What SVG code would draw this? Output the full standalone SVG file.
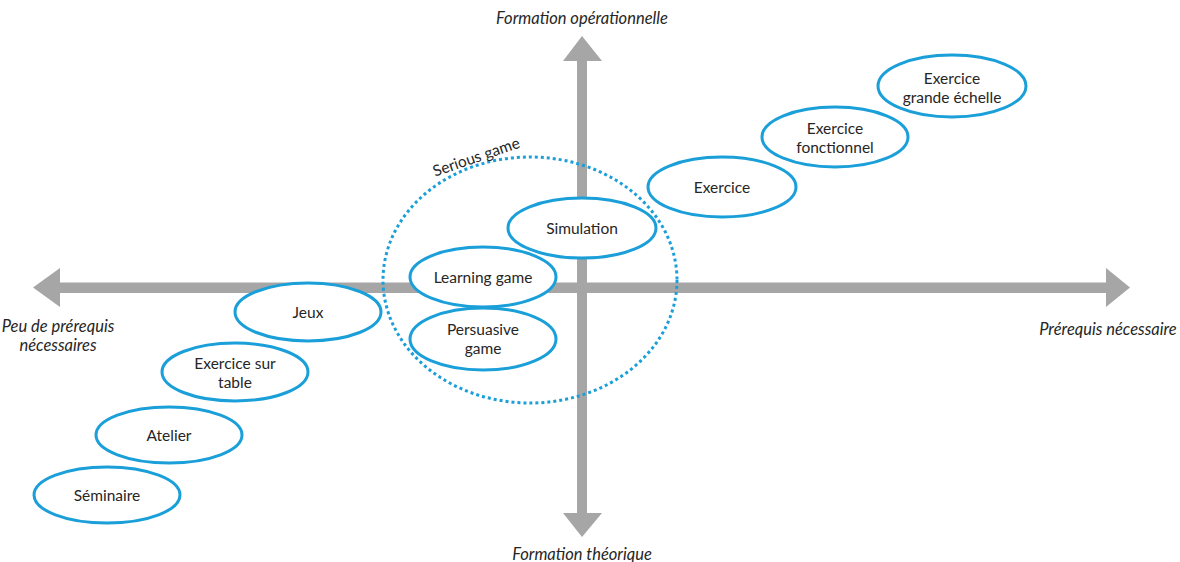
<svg xmlns="http://www.w3.org/2000/svg" width="1180" height="562" viewBox="0 0 1180 562">
<style>
.ax{fill:#A6A6A6}
.n ellipse{fill:#fff;stroke:#1A9FD9;stroke-width:3}
.n text,.t{font-family:Lato,"Open Sans",sans-serif;font-size:15.5px;fill:#262626;text-anchor:middle}
.lab{font-family:Lato,"Open Sans",sans-serif;font-size:16.5px;font-style:italic;fill:#262626;text-anchor:middle}
</style>
<rect width="1180" height="562" fill="#fff"/>
<g id="axes">
<polygon class="ax" points="33,287.5 60,268 60,282.5 1106,282.5 1106,268 1130,287.5 1106,307 1106,293 60,293 60,307"/>
<polygon class="ax" points="582,36 602,61 587,61 587,513 602,513 582,537 563,513 577,513 577,61 563,61"/>
</g>
<g id="axis-labels">
<text class="lab" x="582" y="24">Formation opérationnelle</text>
<text class="lab" x="582" y="560">Formation théorique</text>
<text class="lab" x="58" y="332">Peu de prérequis</text>
<text class="lab" x="58" y="351">nécessaires</text>
<text class="lab" x="1108" y="335">Prérequis nécessaire</text>
</g>
<g id="seminaire" class="n"><ellipse cx="107" cy="495" rx="73" ry="28"/><text x="107" y="501">Séminaire</text></g>
<g id="atelier" class="n"><ellipse cx="169" cy="435" rx="73" ry="28"/><text x="169" y="441">Atelier</text></g>
<g id="exercice-table" class="n"><ellipse cx="235" cy="372" rx="73" ry="29"/><text x="235" y="369">Exercice sur</text><text x="235" y="388">table</text></g>
<g id="jeux" class="n"><ellipse cx="308" cy="312" rx="73" ry="29"/><text x="308" y="318">Jeux</text></g>
<g id="learning-game" class="n"><ellipse cx="483" cy="277" rx="73" ry="30"/><text x="483" y="283">Learning game</text></g>
<g id="persuasive-game" class="n"><ellipse cx="483" cy="339" rx="73" ry="31"/><text x="483" y="335">Persuasive</text><text x="483" y="354">game</text></g>
<g id="simulation" class="n"><ellipse cx="582" cy="228" rx="74" ry="30"/><text x="582" y="234">Simulation</text></g>
<g id="exercice" class="n"><ellipse cx="722" cy="187" rx="74" ry="30"/><text x="722" y="193">Exercice</text></g>
<g id="exercice-fonctionnel" class="n"><ellipse cx="835" cy="137" rx="73" ry="30"/><text x="835" y="134">Exercice</text><text x="835" y="153">fonctionnel</text></g>
<g id="exercice-grande-echelle" class="n"><ellipse cx="952" cy="86" rx="74" ry="31"/><text x="952" y="84">Exercice</text><text x="952" y="103">grande échelle</text></g>
<g id="serious-game">
<ellipse cx="530" cy="280" rx="147" ry="123" fill="none" stroke="#1A9FD9" stroke-width="3" stroke-dasharray="3,3"/>
<text class="t" x="478" y="162" transform="rotate(-19 478 162)">Serious game</text>
</g>
</svg>
